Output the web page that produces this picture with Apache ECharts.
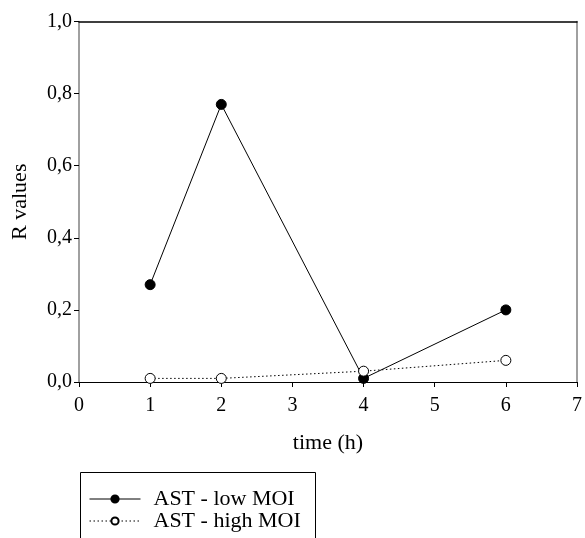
<!DOCTYPE html>
<html>
<head>
<meta charset="utf-8">
<script src="https://cdn.jsdelivr.net/npm/echarts@6/dist/echarts.min.js"></script>
<style>
  html, body { margin: 0; padding: 0; background: #fff; }
  #main { width: 585px; height: 538px; }
</style>
</head>
<body>
<div id="main"></div>
<script>
// time points (h)
var timePoints = [1, 2, 4, 6];
// R values per series
var lowMoi = [0.27, 0.77, 0.01, 0.2];
var highMoi = [0.01, 0.01, 0.03, 0.06];
var seriesNames = ["AST - low MOI", "AST - high MOI"];

var font = '"Liberation Serif", "Times New Roman", serif';

function pairs(values) {
  return timePoints.map(function (t, i) {
    return [t, values[i]];
  });
}

var chartDom = document.getElementById("main");
var myChart = echarts.init(chartDom);

var option = {
  animation: false,
  backgroundColor: "#fff",
  grid: {
    left: 79,
    top: 21.5,
    right: 4,
    bottom: 156,
  },
  legend: {
    orient: "vertical",
    left: 89,
    top: 488,
    itemWidth: 51,
    itemHeight: 9,
    itemGap: 0,
    padding: 0,
    data: seriesNames,
    lineStyle: { width: 1 },
    textStyle: {
      fontFamily: font,
      fontSize: 22,
      color: "#000",
      lineHeight: 20,
      padding: [0, 0, 0, 8],
    },
  },
  graphic: [
    {
      // legend frame, its bottom runs off the picture
      type: "rect",
      left: 78,
      top: 470,
      shape: { width: 235, height: 100 },
      style: { fill: "none", stroke: "#000", lineWidth: 1 },
      silent: true,
    },
  ],
  xAxis: [
    {
      type: "value",
      min: 0,
      max: 7,
      interval: 1,
      name: "time (h)",
      nameLocation: "middle",
      nameGap: 50,
      nameTextStyle: { fontFamily: font, fontSize: 22, color: "#000" },
      axisLine: { show: true, onZero: false, lineStyle: { color: "#000", width: 1 } },
      axisTick: { show: true, inside: false, length: 5, lineStyle: { color: "#000" } },
      axisLabel: { margin: 14, fontFamily: font, fontSize: 20, color: "#000" },
      splitLine: { show: false },
    },
    {
      type: "value",
      position: "top",
      min: 0,
      max: 7,
      axisLine: { show: true, onZero: false, lineStyle: { color: "#000", width: 1.5 } },
      axisTick: { show: false },
      axisLabel: { show: false },
      splitLine: { show: false },
    },
  ],
  yAxis: [
    {
      type: "value",
      min: 0,
      max: 1,
      interval: 0.2,
      name: "R values",
      nameLocation: "middle",
      nameGap: 48,
      nameTextStyle: { fontFamily: font, fontSize: 22, color: "#000" },
      axisLine: { show: true, onZero: false, lineStyle: { color: "#808080", width: 1.5 } },
      axisTick: { show: true, inside: false, length: 5, lineStyle: { color: "#000" } },
      axisLabel: {
        margin: 7,
        fontFamily: font,
        fontSize: 20,
        color: "#000",
        formatter: function (v) {
          return v.toFixed(1).replace(".", ",");
        },
      },
      splitLine: { show: false },
    },
    {
      type: "value",
      position: "right",
      min: 0,
      max: 1,
      axisLine: { show: true, onZero: false, lineStyle: { color: "#808080", width: 1.5 } },
      axisTick: { show: false },
      axisLabel: { show: false },
      splitLine: { show: false },
    },
  ],
  series: [
    {
      name: seriesNames[0],
      type: "line",
      data: pairs(lowMoi),
      symbol: "circle",
      symbolSize: 10,
      lineStyle: { color: "#000", width: 1 },
      itemStyle: { color: "#000", borderColor: "#000", borderWidth: 1 },
      z: 3,
    },
    {
      name: seriesNames[1],
      type: "line",
      data: pairs(highMoi),
      symbol: "circle",
      symbolSize: 10,
      lineStyle: { color: "#000", width: 1, type: [1.5, 2.5] },
      itemStyle: { color: "#fff", borderColor: "#000", borderWidth: 1 },
      z: 4,
    },
  ],
};

myChart.setOption(option);
</script>
</body>
</html>
